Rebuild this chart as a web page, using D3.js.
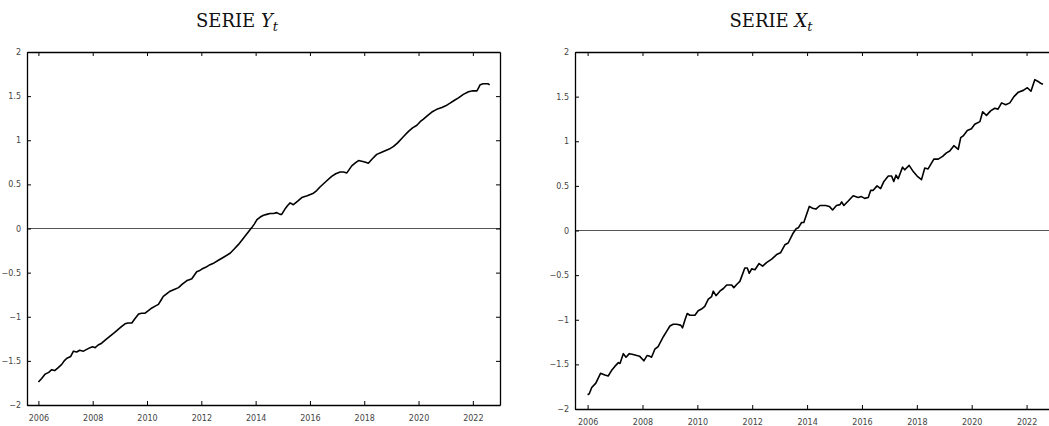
<!DOCTYPE html>
<html>
<head>
<meta charset="utf-8">
<script src="https://cdn.jsdelivr.net/npm/d3@7/dist/d3.min.js"></script>
<style>
  body { margin: 0; background: #fff; }
  svg { display: block; }
  .tick text { font-family: "DejaVu Sans", sans-serif; font-size: 8px; fill: #444; }
  .title { font-family: "DejaVu Serif", serif; font-size: 18px; fill: #111; }
</style>
</head>
<body>
<svg id="chart" width="1049" height="426"></svg>
<script>
// series Y_t (decimal year, value)
var yDates = [2006.00,2006.12,2006.25,2006.38,2006.49,2006.60,2006.72,2006.86,2006.95,2007.05,2007.19,2007.29,2007.41,2007.52,2007.66,2007.78,2007.90,2008.00,2008.09,2008.20,2008.33,2008.48,2008.64,2008.80,2008.95,2009.07,2009.19,2009.30,2009.44,2009.56,2009.69,2009.80,2009.93,2010.05,2010.18,2010.30,2010.42,2010.52,2010.60,2010.72,2010.85,2011.00,2011.16,2011.30,2011.47,2011.56,2011.65,2011.74,2011.83,2011.92,2012.02,2012.16,2012.32,2012.47,2012.63,2012.85,2013.06,2013.22,2013.37,2013.55,2013.73,2013.86,2013.95,2014.05,2014.17,2014.29,2014.41,2014.53,2014.66,2014.78,2014.90,2014.96,2015.08,2015.18,2015.27,2015.39,2015.55,2015.70,2015.90,2016.13,2016.25,2016.37,2016.58,2016.80,2016.95,2017.11,2017.24,2017.36,2017.45,2017.54,2017.66,2017.79,2017.95,2018.05,2018.15,2018.30,2018.46,2018.62,2018.77,2018.92,2019.08,2019.23,2019.38,2019.50,2019.63,2019.78,2019.94,2020.06,2020.18,2020.33,2020.49,2020.67,2020.86,2021.00,2021.16,2021.31,2021.47,2021.65,2021.84,2022.00,2022.15,2022.22,2022.27,2022.38,2022.46,2022.55,2022.62];
var yValues = [-1.74,-1.70,-1.65,-1.63,-1.60,-1.61,-1.58,-1.54,-1.50,-1.47,-1.45,-1.39,-1.40,-1.38,-1.39,-1.37,-1.35,-1.34,-1.35,-1.32,-1.30,-1.26,-1.22,-1.18,-1.14,-1.11,-1.08,-1.07,-1.07,-1.02,-0.97,-0.96,-0.96,-0.93,-0.90,-0.88,-0.86,-0.81,-0.77,-0.74,-0.71,-0.69,-0.67,-0.63,-0.59,-0.58,-0.57,-0.53,-0.49,-0.48,-0.46,-0.44,-0.41,-0.39,-0.36,-0.32,-0.28,-0.23,-0.18,-0.11,-0.04,0.01,0.05,0.10,0.13,0.15,0.16,0.17,0.17,0.18,0.16,0.16,0.22,0.26,0.29,0.27,0.31,0.35,0.37,0.40,0.43,0.47,0.53,0.59,0.62,0.64,0.64,0.63,0.67,0.71,0.74,0.77,0.76,0.75,0.74,0.79,0.84,0.86,0.88,0.90,0.93,0.97,1.02,1.06,1.10,1.14,1.17,1.21,1.24,1.28,1.32,1.35,1.37,1.39,1.42,1.45,1.48,1.52,1.55,1.56,1.56,1.60,1.63,1.64,1.64,1.64,1.63];

// series X_t
var xDates = [2006.00,2006.06,2006.15,2006.30,2006.47,2006.63,2006.75,2006.87,2007.00,2007.12,2007.18,2007.30,2007.40,2007.52,2007.66,2007.79,2007.90,2008.05,2008.17,2008.27,2008.33,2008.45,2008.57,2008.76,2008.88,2009.00,2009.12,2009.24,2009.39,2009.46,2009.55,2009.63,2009.73,2009.91,2010.03,2010.15,2010.27,2010.40,2010.52,2010.58,2010.68,2010.82,2010.95,2011.07,2011.25,2011.33,2011.45,2011.55,2011.73,2011.82,2011.89,2011.98,2012.10,2012.25,2012.38,2012.52,2012.71,2012.89,2013.03,2013.19,2013.31,2013.49,2013.60,2013.68,2013.80,2013.88,2014.08,2014.20,2014.32,2014.47,2014.68,2014.81,2014.93,2015.07,2015.20,2015.26,2015.34,2015.50,2015.68,2015.86,2015.98,2016.10,2016.23,2016.32,2016.41,2016.55,2016.68,2016.80,2016.96,2017.08,2017.16,2017.24,2017.32,2017.48,2017.56,2017.72,2017.87,2018.01,2018.17,2018.29,2018.41,2018.62,2018.78,2018.94,2019.08,2019.20,2019.35,2019.51,2019.60,2019.69,2019.84,2019.99,2020.11,2020.30,2020.40,2020.54,2020.69,2020.84,2020.96,2021.09,2021.24,2021.39,2021.54,2021.70,2021.88,2022.03,2022.16,2022.30,2022.42,2022.51,2022.60];
var xValues = [-1.84,-1.83,-1.76,-1.71,-1.60,-1.62,-1.63,-1.57,-1.52,-1.48,-1.49,-1.38,-1.42,-1.38,-1.39,-1.40,-1.41,-1.46,-1.40,-1.41,-1.42,-1.33,-1.30,-1.19,-1.13,-1.07,-1.05,-1.05,-1.06,-1.09,-1.00,-0.93,-0.95,-0.95,-0.90,-0.88,-0.85,-0.77,-0.74,-0.68,-0.73,-0.68,-0.65,-0.61,-0.61,-0.64,-0.60,-0.57,-0.42,-0.42,-0.48,-0.43,-0.44,-0.37,-0.40,-0.36,-0.32,-0.27,-0.25,-0.16,-0.14,-0.03,0.02,0.03,0.09,0.09,0.27,0.25,0.24,0.28,0.28,0.27,0.23,0.28,0.29,0.32,0.28,0.33,0.39,0.37,0.38,0.36,0.37,0.45,0.45,0.50,0.47,0.55,0.61,0.61,0.55,0.62,0.58,0.71,0.68,0.73,0.66,0.61,0.57,0.70,0.69,0.80,0.80,0.83,0.87,0.89,0.95,0.91,1.04,1.06,1.12,1.14,1.19,1.22,1.33,1.29,1.34,1.37,1.36,1.43,1.41,1.43,1.50,1.55,1.57,1.60,1.56,1.69,1.67,1.65,1.64];

var yearTicks = [2006,2008,2010,2012,2014,2016,2018,2020,2022];
var valueTicks = [-2,-1.5,-1,-0.5,0,0.5,1,1.5,2];

var svg = d3.select("#chart");

var panels = [
  {title: "Y", dates: yDates, values: yValues, left: 27, right: 500, top: 52, bottom: 405,
   domain: [2005.58, 2023.0], titleX: 237},
  {title: "X", dates: xDates, values: xValues, left: 575, right: 1054, top: 52, bottom: 409,
   domain: [2005.54, 2023.0], titleX: 771}
];

panels.forEach(function(p){
  var x = d3.scaleLinear().domain(p.domain).range([p.left, p.right]);
  var y = d3.scaleLinear().domain([-2, 2]).range([p.bottom, p.top]);
  var g = svg.append("g");

  // zero line
  g.append("line")
    .attr("x1", p.left).attr("x2", p.right)
    .attr("y1", y(0)).attr("y2", y(0))
    .attr("stroke", "#555").attr("stroke-width", 1);

  // series
  var pts = p.dates.map(function(d, i){ return [d, p.values[i]]; });
  g.append("path")
    .datum(pts)
    .attr("fill", "none")
    .attr("stroke", "#000")
    .attr("stroke-width", 1.6)
    .attr("stroke-linejoin", "round")
    .attr("d", d3.line().x(function(d){ return x(d[0]); }).y(function(d){ return y(d[1]); }));

  // axes, ticks pointing inward
  var xb = g.append("g").attr("transform", "translate(0," + p.bottom + ")")
    .call(d3.axisBottom(x).tickValues(yearTicks).tickFormat(d3.format("d")).tickSizeInner(-4).tickSizeOuter(0).tickPadding(10));
  var xt = g.append("g").attr("transform", "translate(0," + p.top + ")")
    .call(d3.axisTop(x).tickValues(yearTicks).tickFormat("").tickSizeInner(-4).tickSizeOuter(0));
  var yl = g.append("g").attr("transform", "translate(" + p.left + ",0)")
    .call(d3.axisLeft(y).tickValues(valueTicks).tickFormat(d3.format("")).tickSizeInner(-4).tickSizeOuter(0).tickPadding(6));
  var yr = g.append("g").attr("transform", "translate(" + p.right + ",0)")
    .call(d3.axisRight(y).tickValues(valueTicks).tickFormat("").tickSizeInner(-4).tickSizeOuter(0));

  [xb, xt, yl, yr].forEach(function(a){
    a.select(".domain").attr("stroke", "#000").attr("stroke-width", 1.3);
    a.selectAll(".tick line").attr("stroke", "#000");
  });

  // title
  var t = g.append("text").attr("class", "title")
    .attr("x", p.titleX).attr("y", 27).attr("text-anchor", "middle");
  t.append("tspan").text("SERIE ");
  t.append("tspan").attr("font-style", "italic").text(p.title);
  t.append("tspan").attr("font-style", "italic").attr("font-size", "13px").attr("dy", 4).text("t");
});
</script>
</body>
</html>
